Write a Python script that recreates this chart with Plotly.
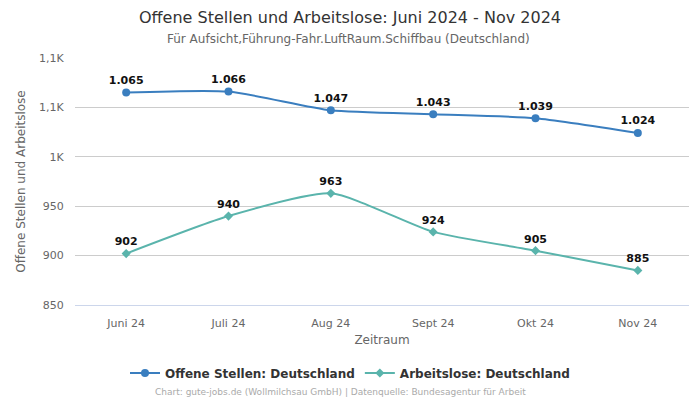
import plotly.graph_objects as go

months = ["Juni 24", "Juli 24", "Aug 24", "Sept 24", "Okt 24", "Nov 24"]
offene = [1065, 1066, 1047, 1043, 1039, 1024]
arbeitslose = [902, 940, 963, 924, 905, 885]
offene_labels = ["1.065", "1.066", "1.047", "1.043", "1.039", "1.024"]
arbeitslose_labels = ["902", "940", "963", "924", "905", "885"]
y_tickvals = [850, 900, 950, 1000, 1050, 1100]
y_ticktext = ["850", "900", "950", "1K", "1,1K", "1,1K"]

blue = "#3a7ebf"
teal = "#5ab4ac"
font = "DejaVu Sans"

fig = go.Figure()
fig.add_trace(go.Scatter(
    x=months, y=offene, name="Offene Stellen: Deutschland",
    mode="lines+markers+text", text=offene_labels, textposition="top center",
    textfont=dict(family=font, size=11, color="#111111", weight="bold"),
    line=dict(color=blue, width=2, shape="spline", smoothing=0.6),
    marker=dict(symbol="circle", size=8, color=blue),
    cliponaxis=False,
))
fig.add_trace(go.Scatter(
    x=months, y=arbeitslose, name="Arbeitslose: Deutschland",
    mode="lines+markers+text", text=arbeitslose_labels, textposition="top center",
    textfont=dict(family=font, size=11, color="#111111", weight="bold"),
    line=dict(color=teal, width=2, shape="spline", smoothing=0.6),
    marker=dict(symbol="diamond", size=7, color=teal),
    cliponaxis=False,
))

fig.update_layout(
    width=700, height=400, autosize=False,
    margin=dict(l=75, r=11, t=58, b=95, autoexpand=False),
    paper_bgcolor="white", plot_bgcolor="white",
    font=dict(family=font, size=11, color="#666666"),
    title=dict(
        text="Offene Stellen und Arbeitslose: Juni 2024 - Nov 2024",
        x=0.5, xref="container", xanchor="center",
        y=1 - 17 / 400, yref="container", yanchor="middle",
        font=dict(family=font, size=16, color="#333333"),
    ),
    showlegend=True,
    legend=dict(
        orientation="h", x=(350 - 75) / 614, xanchor="center",
        y=(305 - 373) / 247, yanchor="middle",
        font=dict(family=font, size=12, color="#333333", weight="bold"),
    ),
    xaxis=dict(
        title=dict(text="Zeitraum", font=dict(size=12, color="#666666"), standoff=6),
        range=[-0.5, 5.5],
        showgrid=False, showline=True, linecolor="#ccd6eb", linewidth=1,
        ticks="outside", ticklen=8, tickcolor="rgba(0,0,0,0)",
        tickfont=dict(size=11, color="#666666"),
    ),
    yaxis=dict(
        title=dict(text="Offene Stellen und Arbeitslose", font=dict(size=12, color="#666666"), standoff=10),
        range=[850, 1100], tickvals=y_tickvals, ticktext=y_ticktext,
        showgrid=True, gridcolor="#cccccc", gridwidth=1, zeroline=False,
        ticks="outside", ticklen=8, tickcolor="rgba(0,0,0,0)",
        tickfont=dict(size=11, color="#666666"),
    ),
    annotations=[
        dict(
            text="Für Aufsicht,Führung-Fahr.LuftRaum.Schiffbau (Deutschland)",
            x=(348 - 75) / 614, xref="paper", xanchor="center",
            y=(305 - 39) / 247, yref="paper", yanchor="middle",
            showarrow=False, font=dict(family=font, size=12, color="#666666"),
        ),
        dict(
            text="Chart: gute-jobs.de (Wollmilchsau GmbH) | Datenquelle: Bundesagentur für Arbeit",
            x=(340 - 75) / 614, xref="paper", xanchor="center",
            y=(305 - 392) / 247, yref="paper", yanchor="middle",
            showarrow=False, font=dict(family=font, size=9, color="#aaaaaa"),
        ),
    ],
)

fig.write_html(
    "out.html",
    config={"displayModeBar": False},
    post_script="document.body.style.margin='0';",
)
